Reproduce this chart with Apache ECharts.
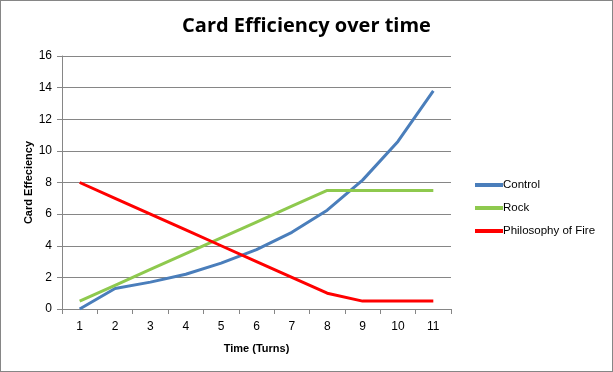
<!DOCTYPE html>
<html><head><meta charset="utf-8">
<script src="https://cdn.jsdelivr.net/npm/echarts@6/dist/echarts.min.js"></script>
<style>html,body{margin:0;padding:0;background:#fff}#c{width:613px;height:372px;box-sizing:border-box;border:1px solid #868686}</style>
</head><body><div id="c"></div>
<script>
const categories = ['1','2','3','4','5','6','7','8','9','10','11'];
const control = [0, 1.3, 1.7, 2.2, 2.9, 3.75, 4.85, 6.25, 8.15, 10.6, 13.8];
const rock = [0.5, 1.5, 2.5, 3.5, 4.5, 5.5, 6.5, 7.5, 7.5, 7.5, 7.5];
const fire = [8, 7, 6, 5, 4, 3, 2, 1, 0.5, 0.5, 0.5];
const seriesNames = ['Control', 'Rock', 'Philosophy of Fire'];
const colors = ['#4a7ebb', '#8ec94e', '#ff0000'];

const chart = echarts.init(document.getElementById('c'), null, {renderer: 'canvas'});
const lbl = {fontFamily: 'Liberation Sans, Arial, sans-serif', fontSize: 12, color: '#000'};
chart.setOption({
  animation: false,
  title: {text: 'Card Efficiency over time', left: 'center', top: 10,
    textStyle: {fontFamily: 'Open Sans, Lato, sans-serif', fontWeight: 'bold', fontSize: 20, color: '#000'}},
  grid: {left: 61, right: 161, top: 55, bottom: 62},
  legend: {orient: 'vertical', left: 469, top: 173, itemWidth: 28, itemHeight: 4, itemGap: 11,
    icon: 'rect', textStyle: {fontFamily: 'Liberation Sans, Arial, sans-serif', fontSize: 11.5, color: '#000', padding: [0,0,0,-5]},
    data: seriesNames},
  xAxis: {type: 'category', data: categories, boundaryGap: true,
    name: 'Time (Turns)', nameLocation: 'middle', nameGap: 34, nameMoveOverlap: false,
    nameTextStyle: {fontFamily: 'Liberation Sans, Arial, sans-serif', fontWeight: 'bold', fontSize: 11, color: '#000'},
    axisLine: {lineStyle: {color: '#868686'}},
    axisTick: {show: true, length: 5, alignWithLabel: false, lineStyle: {color: '#868686'}},
    axisLabel: Object.assign({margin: 12}, lbl)},
  yAxis: {type: 'value', min: 0, max: 16, interval: 2,
    name: 'Card Effeciency', nameLocation: 'middle', nameGap: 28, nameRotate: 90, nameMoveOverlap: false,
    nameTextStyle: {fontFamily: 'Liberation Sans, Arial, sans-serif', fontWeight: 'bold', fontSize: 11, color: '#000'},
    axisLine: {show: true, lineStyle: {color: '#868686'}},
    axisTick: {show: true, length: 5, lineStyle: {color: '#868686'}},
    splitLine: {lineStyle: {color: '#868686'}},
    axisLabel: Object.assign({margin: 10}, lbl)},
  series: [
    {name: seriesNames[0], type: 'line', data: control, symbol: 'none', lineStyle: {width: 3, color: colors[0]}, itemStyle: {color: colors[0]}},
    {name: seriesNames[1], type: 'line', data: rock, symbol: 'none', lineStyle: {width: 3, color: colors[1]}, itemStyle: {color: colors[1]}},
    {name: seriesNames[2], type: 'line', data: fire, symbol: 'none', lineStyle: {width: 3, color: colors[2]}, itemStyle: {color: colors[2]}}
  ]
});
</script></body></html>
